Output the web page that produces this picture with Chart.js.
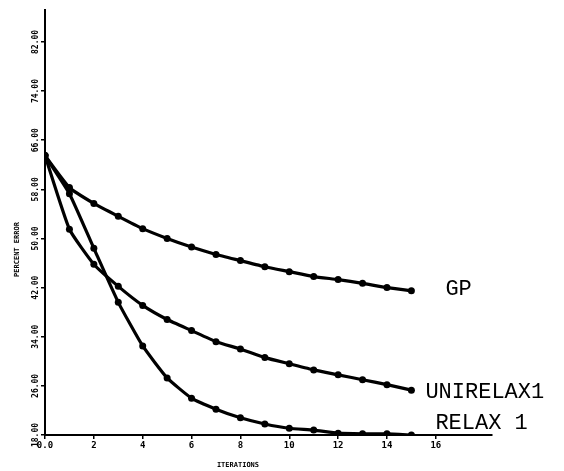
<!DOCTYPE html>
<html>
<head>
<meta charset="utf-8">
<script src="https://cdn.jsdelivr.net/npm/chart.js@4.4.1/dist/chart.umd.min.js"></script>
<style>
  html, body { margin: 0; padding: 0; background: #fff; }
  #wrap { width: 564px; height: 471px; }
</style>
</head>
<body>
<div id="wrap"><canvas id="myChart" width="564" height="471"></canvas></div>
<script>
// iterations 0..15
var iterations = [0, 1, 2, 3, 4, 5, 6, 7, 8, 9, 10, 11, 12, 13, 14, 15];
var gp = [63.5, 58.3, 55.7, 53.6, 51.6, 50.0, 48.6, 47.4, 46.4, 45.4, 44.6, 43.8, 43.3, 42.7, 42.0, 41.5];
var unirelax1 = [63.5, 51.5, 45.8, 42.2, 39.1, 36.8, 35.0, 33.2, 32.0, 30.6, 29.6, 28.6, 27.8, 27.0, 26.2, 25.3];
var relax1 = [63.5, 57.3, 48.4, 39.6, 32.5, 27.3, 24.0, 22.2, 20.8, 19.8, 19.1, 18.8, 18.3, 18.2, 18.2, 18.0];
var seriesNames = ["GP", "UNIRELAX1", "RELAX 1"];
var xTicks = [0, 2, 4, 6, 8, 10, 12, 14, 16];
var yTicks = [18, 26, 34, 42, 50, 58, 66, 74, 82];

var ctx1 = document.getElementById("myChart");

function toPoints(arr) {
  return iterations.map(function (x, i) { return { x: x, y: arr[i] }; });
}

function makeSet(name, arr) {
  return {
    label: name,
    data: toPoints(arr),
    borderColor: '#000',
    backgroundColor: '#000',
    borderWidth: 3.2,
    pointRadius: 3.5,
    pointBorderWidth: 0,
    tension: 0.15
  };
}

// series names at line ends + axis titles
const labelPlugin = {
  id: 'endLabels',
  afterDatasetsDraw(chart) {
    const c = chart.ctx;
    const xs = chart.scales.x, ys = chart.scales.y;
    const offs = [[34, -2], [14, 2], [24, -12]];
    c.save();
    c.fillStyle = '#000';
    c.font = '22px "Liberation Mono"';
    c.textAlign = 'left';
    c.textBaseline = 'middle';
    chart.data.datasets.forEach(function (ds, i) {
      const last = ds.data[ds.data.length - 1];
      c.fillText(seriesNames[i], xs.getPixelForValue(last.x) + offs[i][0], ys.getPixelForValue(last.y) + offs[i][1]);
    });
    // axis titles
    c.font = 'bold 7px "DejaVu Sans Mono"';
    c.textAlign = 'center';
    c.fillText('ITERATIONS', xs.getPixelForValue(7.9), 465);
    c.translate(17, ys.getPixelForValue(48.2));
    c.rotate(-Math.PI / 2);
    c.fillText('PERCENT ERROR', 0, 0);
    c.restore();
  }
};

const config = {
  type: 'line',
  data: {
    datasets: [makeSet(seriesNames[0], gp), makeSet(seriesNames[1], unirelax1), makeSet(seriesNames[2], relax1)]
  },
  options: {
    responsive: false,
    animation: false,
    layout: { padding: { left: 0, top: 10, right: 72, bottom: 0 } },
    plugins: { legend: { display: false }, tooltip: { enabled: false } },
    scales: {
      x: {
        type: 'linear',
        min: 0,
        max: 18.3,
        afterBuildTicks: function (s) { s.ticks = xTicks.map(function (v) { return { value: v }; }); },
        afterFit: function (s) { s.height = 36; },
        border: { color: '#000', width: 2 },
        grid: { drawOnChartArea: false, tickLength: 4, color: '#000', lineWidth: 1.5 },
        ticks: {
          color: '#000',
          padding: 1,
          maxRotation: 0,
          font: { family: 'DejaVu Sans Mono', size: 9, weight: 'bold' },
          callback: function (v) { return v === 0 ? '0.0' : String(v); }
        }
      },
      y: {
        type: 'linear',
        min: 18,
        max: 87.2,
        afterBuildTicks: function (s) { s.ticks = yTicks.map(function (v) { return { value: v }; }); },
        afterFit: function (s) { s.width = 45; },
        border: { color: '#000', width: 2 },
        grid: { drawOnChartArea: false, tickLength: 4, color: '#000', lineWidth: 1.5 },
        ticks: {
          color: '#000',
          minRotation: 90,
          maxRotation: 90,
          crossAlign: 'center',
          padding: -7,
          font: { family: 'DejaVu Sans Mono', size: 8, weight: 'bold' },
          callback: function (v) { return v.toFixed(2); }
        }
      }
    }
  },
  plugins: [labelPlugin]
};

const myChart = new Chart(ctx1, config);
</script>
</body>
</html>
